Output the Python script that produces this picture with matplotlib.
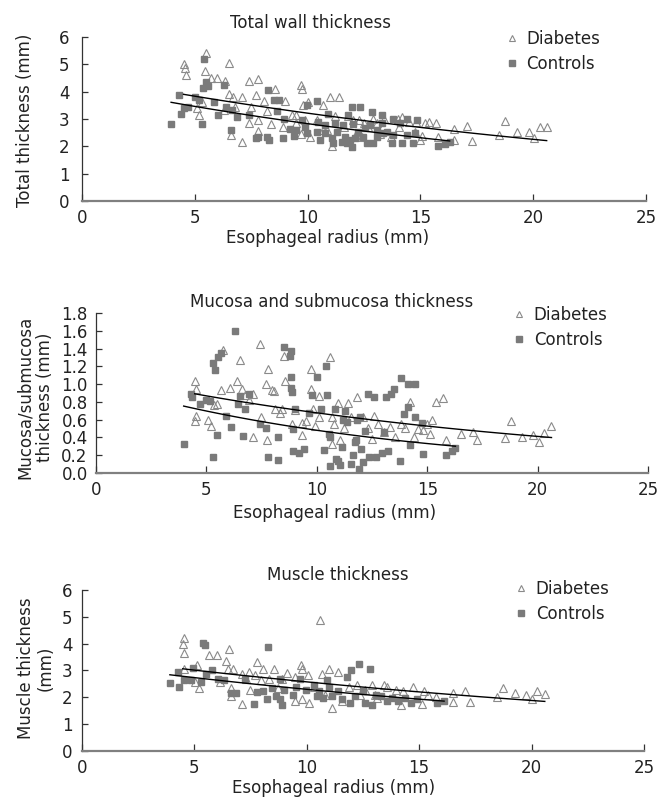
import numpy as np
import matplotlib.pyplot as plt
from matplotlib.lines import Line2D

plt.rcParams["font.family"] = "DejaVu Sans"
plt.rcParams["font.size"] = 12

# Total wall thickness (mm) vs esophageal radius (mm)
total_dm_x = [4.5, 4.55, 4.6, 5.5, 5.45, 5.7, 6.0, 6.35, 6.5, 6.5, 6.7, 7.1, 6.6, 7.1, 7.4, 7.8,
              7.7, 7.5, 7.4, 7.8, 7.8, 8.05, 8.2, 8.55, 8.4, 8.9, 9.0, 9.3, 9.5, 9.7, 9.75, 9.8,
              9.7, 9.9, 10.0, 10.1, 10.7, 11.0, 11.4, 11.1, 11.2, 11.8, 12.0, 12.3, 12.5, 12.9,
              13.1, 13.4, 13.7, 14.0, 14.2, 14.5, 14.8, 14.75, 15.0, 15.2, 15.4, 15.7, 15.8,
              16.5, 16.5, 17.05, 17.3, 18.5, 18.75, 19.3, 19.8, 20.05, 20.3, 20.6, 5.1, 5.2,
              5.3, 6.3, 6.8, 9.5, 10.4, 10.7, 10.85, 11.6, 12.15, 12.4, 12.7, 13.2, 14.05, 15.06]
total_dm_y = [5.03, 4.85, 4.6, 5.4, 4.75, 4.5, 4.5, 4.4, 5.05, 3.9, 3.8, 3.8, 2.4, 2.15, 4.4, 4.45,
              3.87, 3.45, 2.85, 2.97, 2.55, 3.65, 3.3, 4.1, 2.8, 2.72, 3.65, 3.15, 3.15, 4.25, 4.1, 3.5,
              2.47, 2.95, 3.63, 2.35, 3.5, 3.8, 3.8, 2.0, 3.1, 3.1, 2.95, 2.95, 2.85, 3.0,
              2.85, 3.0, 2.35, 3.0, 3.08, 2.9, 2.9, 2.53, 2.23, 2.85, 2.9, 2.85, 2.35,
              2.62, 2.23, 2.74, 2.2, 2.41, 2.94, 2.54, 2.54, 2.29, 2.7, 2.7, 3.4, 3.15,
              3.63, 3.32, 3.45, 2.85, 2.96, 2.6, 2.6, 2.72, 2.47, 2.35, 2.72, 2.47, 2.72, 2.38]
total_ctrl_x = [3.95, 4.3, 4.4, 4.5, 4.7, 5.0, 5.2, 5.3, 5.35, 5.4, 5.5, 5.6, 5.85, 6.05, 6.3, 6.4,
                6.65, 6.6, 6.85, 7.4, 7.7, 7.8, 8.25, 8.2, 8.3, 8.5, 8.65, 8.75, 8.9, 8.95, 9.2,
                9.4, 9.5, 9.96, 10.4, 11.95, 12.32, 12.84, 11.8, 10.92, 13.8, 14.39, 14.1,
                13.28, 14.83, 10.47, 10.77, 11.21, 11.58, 12.03, 12.54, 12.77, 13.06, 13.51,
                9.88, 9.96, 10.4, 10.77, 11.29, 11.66, 11.88, 11.73, 11.95, 11.51, 12.1, 10.55,
                11.14, 11.07, 12.62, 12.91, 13.06, 13.36, 13.73, 14.17, 14.69, 14.76, 14.39,
                13.8, 12.47, 12.25, 9.74, 13.28, 15.8, 16.1, 16.3]
total_ctrl_y = [2.83, 3.87, 3.2, 3.4, 3.45, 3.8, 3.7, 2.83, 4.13, 5.18, 4.35, 4.2, 3.63, 3.15, 4.23, 3.45,
                3.32, 2.6, 3.08, 3.15, 2.3, 2.33, 4.05, 2.35, 2.23, 3.7, 3.3, 3.7, 2.3, 3.0, 2.65,
                2.37, 2.6, 3.51, 3.65, 3.45, 3.45, 3.27, 3.15, 3.18, 2.99, 2.99, 2.84,
                2.87, 2.96, 2.9, 2.78, 2.84, 2.78, 2.82, 2.66, 2.78, 2.6, 2.54,
                2.72, 2.48, 2.54, 2.48, 2.54, 2.35, 2.23, 2.11, 1.99, 2.17, 2.29, 2.23,
                2.11, 2.29, 2.11, 2.11, 2.35, 2.48, 2.11, 2.13, 2.11, 2.48, 2.41,
                2.41, 2.35, 2.54, 2.96, 3.15, 2.0, 2.1, 2.17]

# Mucosa and submucosa thickness (mm)
mucosa_dm_x = [4.47, 4.55, 4.55, 4.5, 5.09, 5.22, 5.34, 5.47, 5.68, 5.76, 6.05, 6.37, 6.54, 6.62,
               6.77, 6.93, 7.1, 7.12, 7.43, 7.45, 7.68, 7.77, 7.74, 7.97, 8.06, 8.12, 8.35, 8.43,
               8.5, 8.58, 8.89, 9.02, 9.31, 9.35, 9.5, 9.73, 9.75, 9.85, 9.92, 10.08, 10.12,
               10.61, 10.69, 10.71, 10.79, 10.98, 11.07, 11.23, 11.42, 11.57, 11.8, 12.09,
               12.32, 12.48, 12.61, 12.76, 13.05, 13.3, 13.53, 13.82, 14.01, 14.24, 14.4,
               14.59, 14.82, 14.97, 15.12, 15.22, 15.39, 15.72, 15.83, 16.55, 17.08, 17.27,
               18.52, 18.81, 19.29, 19.77, 20.06, 20.3, 20.63]
mucosa_dm_y = [1.04, 0.95, 0.645, 0.58, 0.6, 0.53, 0.76, 0.78, 0.93, 1.38, 0.96, 1.03, 1.27, 0.94,
               0.88, 0.82, 0.89, 0.41, 1.45, 0.63, 1.0, 1.17, 0.37, 0.93, 0.92, 0.72, 0.68, 0.72,
               1.32, 1.04, 0.55, 0.71, 0.56, 0.43, 0.59, 1.17, 0.95, 0.72, 0.53, 0.87, 0.63,
               1.31, 0.63, 0.33, 0.55, 0.79, 0.37, 0.51, 0.79, 0.63, 0.86, 0.63,
               0.51, 0.38, 0.645, 0.55, 0.46, 0.52, 0.4, 0.55, 0.51, 0.8, 0.4,
               0.5, 0.48, 0.55, 0.44, 0.6, 0.8, 0.84, 0.37, 0.44, 0.46, 0.37,
               0.39, 0.59, 0.4, 0.43, 0.35, 0.45, 0.53]
mucosa_ctrl_x = [3.97, 4.28, 4.36, 4.7, 4.99, 5.14, 5.28, 5.3, 5.37, 5.47, 5.51, 5.66, 5.89, 6.1,
                 6.31, 6.43, 6.54, 6.64, 6.76, 6.91, 7.43, 7.68, 7.77, 8.25, 8.25, 8.5, 8.77,
                 8.83, 8.81, 8.85, 8.89, 8.93, 8.93, 9.0, 9.21, 9.44, 9.65, 9.79, 10.0, 10.17,
                 10.33, 10.42, 10.46, 10.56, 10.61, 10.61, 10.81, 10.88, 10.96, 11.04, 11.13,
                 11.19, 11.27, 11.38, 11.54, 11.65, 11.71, 11.77, 11.84, 11.9, 11.96, 12.0,
                 12.09, 12.19, 12.3, 12.38, 12.57, 12.67, 12.96, 13.05, 13.15, 13.24, 13.34,
                 13.49, 13.78, 13.82, 13.95, 14.11, 14.15, 14.2, 14.43, 14.43, 14.78, 14.82,
                 15.83, 16.12, 16.28]
mucosa_ctrl_y = [0.33, 0.89, 0.85, 0.78, 0.82, 0.81, 0.18, 1.24, 1.16, 0.43, 1.3, 1.35, 0.645, 0.52,
                 1.6, 0.78, 0.87, 0.42, 0.72, 0.89, 0.55, 0.51, 0.18, 0.4, 0.15, 1.42, 1.32,
                 1.37, 1.08, 0.96, 0.91, 0.5, 0.25, 0.72, 0.22, 0.27, 0.68, 0.88, 1.08, 0.72,
                 0.26, 1.2, 0.88, 0.44, 0.4, 0.08, 0.72, 0.16, 0.14, 0.09, 0.29,
                 0.6, 0.7, 0.57, 0.1, 0.2, 0.35, 0.37, 0.6, 0.04, 0.63, 0.27,
                 0.12, 0.47, 0.89, 0.18, 0.85, 0.18, 0.22, 0.46, 0.85, 0.25, 0.89,
                 0.94, 0.14, 1.07, 0.66, 1.0, 0.74, 0.31, 1.0, 0.63, 0.56, 0.21,
                 0.2, 0.25, 0.28]

# Muscle thickness (mm)
muscle_dm_x = [4.56, 4.48, 4.56, 4.52, 5.13, 5.04, 5.21, 5.65, 5.99, 6.39, 6.53, 6.49, 6.74, 6.62,
               6.62, 7.1, 7.14, 7.42, 7.48, 7.77, 7.69, 8.07, 7.96, 8.53, 8.34, 8.91, 9.1, 9.48,
               9.75, 9.77, 9.48, 9.77, 10.06, 10.1, 10.59, 10.67, 10.97, 11.11, 11.39, 11.58,
               11.87, 12.25, 12.58, 12.92, 13.02, 13.45, 13.59, 13.97, 14.2, 14.26, 14.73,
               15.11, 15.21, 15.4, 15.73, 16.51, 16.51, 17.02, 17.25, 18.45, 18.74, 19.26,
               19.75, 20.02, 20.23, 20.59, 6.15, 7.29, 8.72, 10.34, 10.82, 12.35, 13.11]
muscle_dm_y = [4.22, 3.98, 3.67, 3.07, 3.19, 2.58, 2.34, 3.58, 3.58, 3.37, 3.79, 3.07, 3.07, 2.36,
               2.04, 1.76, 2.88, 2.95, 2.28, 3.31, 2.82, 3.07, 2.64, 3.07, 2.7, 2.7, 2.91, 2.76,
               3.19, 3.07, 1.85, 1.92, 2.82, 1.79, 4.88, 2.88, 3.07, 1.61, 2.95, 1.85,
               2.4, 2.46, 2.28, 2.46, 2.1, 2.46, 2.4, 2.28, 1.73, 2.22, 2.4,
               1.76, 2.22, 2.1, 2.0, 2.16, 1.83, 2.24, 1.82, 2.0, 2.34, 2.16,
               2.1, 1.92, 2.22, 2.12, 2.58, 2.7, 2.34, 2.4, 2.1, 2.1, 1.98]
muscle_ctrl_x = [3.91, 4.29, 4.33, 4.56, 4.87, 4.94, 5.29, 5.38, 5.48, 5.52, 5.8, 6.05, 6.34, 6.62,
                 6.87, 7.25, 7.67, 7.77, 8.05, 8.24, 8.26, 8.44, 8.63, 8.82, 8.91, 8.82, 8.97,
                 9.39, 9.54, 9.68, 9.96, 10.34, 10.44, 10.53, 10.73, 10.92, 11.01, 11.11, 11.39,
                 11.58, 11.77, 11.93, 11.97, 12.16, 12.31, 12.5, 12.6, 12.82, 12.92, 13.07,
                 13.3, 13.59, 13.78, 14.06, 14.35, 14.64, 14.92, 15.78, 16.11]
muscle_ctrl_y = [2.52, 2.95, 2.38, 2.64, 2.64, 3.1, 2.58, 4.04, 3.95, 2.88, 3.0, 2.7, 2.64, 2.16,
                 2.16, 2.7, 1.76, 2.19, 2.22, 1.92, 3.89, 2.34, 2.04, 2.7, 1.73, 1.92, 2.28,
                 2.1, 2.4, 2.7, 2.28, 2.46, 2.04, 2.22, 1.98, 2.64, 2.4, 2.04, 2.22,
                 1.92, 2.76, 1.79, 3.03, 2.04, 3.25, 2.22, 1.79, 3.07, 1.73, 2.1,
                 2.04, 1.85, 1.98, 1.85, 1.98, 1.79, 1.92, 1.79, 1.88]

x_ticks = [0, 5, 10, 15, 20, 25]
series_names = ["Diabetes", "Controls"]

gray = "#7a7a7a"


def add_trend(ax, x, y):
    # exponential trend line, fitted on the points
    x = np.array(x)
    slope, icpt = np.polyfit(x, np.log(y), 1)
    xs = np.linspace(x.min(), x.max(), 60)
    ax.plot(xs, np.exp(icpt + slope * xs), color="black", lw=1.0, zorder=4)


def panel(rect, dm_x, dm_y, ct_x, ct_y, ymax, yticks, yfmt, title, title_pos,
          ylabel, ylabel_pos, xlabel_pos, legend_pos, ypad):
    ax = fig.add_axes(rect)
    ax.plot(dm_x, dm_y, ls="none", marker="^", ms=5.5, mfc="none", mec="#8a8a8a",
            mew=0.8, zorder=2)
    ax.plot(ct_x, ct_y, ls="none", marker="s", ms=5, mfc=gray, mec=gray, zorder=3)
    add_trend(ax, dm_x, dm_y)
    add_trend(ax, ct_x, ct_y)

    ax.set_xlim(0, 25)
    ax.set_ylim(0, ymax)
    ax.set_xticks(x_ticks)
    ax.set_yticks(yticks)
    ax.set_yticklabels([yfmt % v for v in yticks])
    for s in ["top", "right"]:
        ax.spines[s].set_visible(False)
    ax.spines["left"].set_color("#333333")
    ax.spines["left"].set_linewidth(0.9)
    ax.spines["bottom"].set_color("#808080")
    ax.spines["bottom"].set_linewidth(1.6)
    ax.tick_params(axis="y", direction="in", length=4, width=0.9, color="#333333",
                   pad=ypad, labelsize=12, labelcolor="#222222")
    ax.tick_params(axis="x", direction="in", length=5, width=0.9, color="#333333",
                   pad=6, labelsize=12, labelcolor="#222222")

    ax.text(title_pos[0], title_pos[1], title, transform=ax.transAxes,
            ha="center", va="center", fontsize=12, color="#222222")
    ax.text(ylabel_pos[0], ylabel_pos[1], ylabel, transform=ax.transAxes, rotation=90,
            ha="center", va="center", fontsize=12, color="#222222",
            multialignment="center", linespacing=1.15)
    ax.text(xlabel_pos[0], xlabel_pos[1], "Esophageal radius (mm)", transform=ax.transAxes,
            ha="center", va="center", fontsize=12, color="#222222")

    handles = [
        Line2D([], [], ls="none", marker="^", ms=5, mfc="none", mec="#8a8a8a", mew=0.8),
        Line2D([], [], ls="none", marker="s", ms=5, mfc=gray, mec=gray),
    ]
    leg = ax.legend(handles, series_names, loc="upper left", bbox_to_anchor=legend_pos,
                    frameon=False, borderpad=0, borderaxespad=0, handlelength=0.8,
                    handletextpad=0.5, labelspacing=0.45, fontsize=12)
    for t in leg.get_texts():
        t.set_color("#222222")
    return ax


fig = plt.figure(figsize=(6.65, 7.99), dpi=100)

panel([0.1233, 0.7484, 0.848, 0.2053], total_dm_x, total_dm_y, total_ctrl_x, total_ctrl_y,
      6, [0, 1, 2, 3, 4, 5, 6], "%d", "Total wall thickness", (0.406, 1.085),
      "Total thickness (mm)", (-0.101, 0.494), (0.436, -0.226), (0.75, 1.045), 9)

panel([0.1444, 0.408, 0.830, 0.2003], mucosa_dm_x, mucosa_dm_y, mucosa_ctrl_x, mucosa_ctrl_y,
      1.8, [0, 0.2, 0.4, 0.6, 0.8, 1.0, 1.2, 1.4, 1.6, 1.8], "%.1f",
      "Mucosa and submucosa thickness", (0.426, 1.069),
      "Mucosa/submucosa\nthickness (mm)", (-0.111, 0.475), (0.433, -0.25), (0.754, 1.046), 6)

panel([0.1233, 0.0601, 0.845, 0.2015], muscle_dm_x, muscle_dm_y, muscle_ctrl_x, muscle_ctrl_y,
      6, [0, 1, 2, 3, 4, 5, 6], "%d", "Muscle thickness", (0.455, 1.093),
      "Muscle thickness\n(mm)", (-0.082, 0.515), (0.447, -0.23), (0.769, 1.065), 7)

fig.savefig("out.png", dpi=100)
